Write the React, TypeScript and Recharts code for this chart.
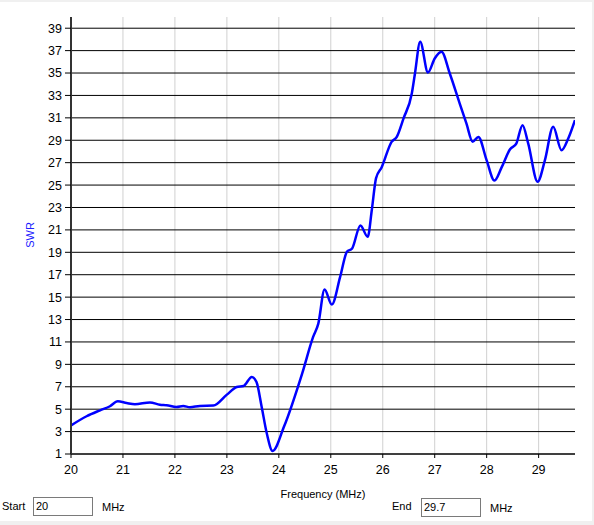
import React from 'react';
import { LineChart, Line, XAxis, YAxis, CartesianGrid } from 'recharts';

const freqMHz = [
  20, 20.3, 20.56, 20.75, 20.9, 21.07, 21.23, 21.52, 21.71, 21.84, 22.03, 22.16, 22.29, 22.48, 22.74,
  23.0, 23.19, 23.32, 23.48, 23.57, 23.67, 23.77, 23.88, 24.1, 24.45, 24.66, 24.76, 24.88, 25.02,
  25.18, 25.31, 25.41, 25.57, 25.71, 25.79, 25.87, 25.98, 26.17, 26.27, 26.4, 26.56, 26.62, 26.72,
  26.87, 27.0, 27.13, 27.29, 27.48, 27.61, 27.73, 27.84, 28.0, 28.15, 28.29, 28.45, 28.57, 28.69,
  28.8, 28.98, 29.12, 29.28, 29.44, 29.57, 29.7,
];
const swrValues = [
  3.55, 4.37, 4.9, 5.26, 5.7, 5.55, 5.44, 5.6, 5.4, 5.35, 5.2, 5.29, 5.17, 5.29, 5.32,
  6.3, 6.98, 7.07, 7.88, 7.43, 5.2, 2.8, 1.27, 3.45, 8.2, 11.45, 12.64, 15.68, 14.34,
  16.8, 19.04, 19.34, 21.4, 20.38, 22.8, 25.6, 26.6, 28.86, 29.3, 30.95, 33.2, 34.96, 37.8,
  35.05, 36.3, 36.9, 34.96, 32.3, 30.5, 28.86, 29.3, 27.2, 25.4, 26.6, 28.2, 28.7, 30.35,
  28.7, 25.3, 27.2, 30.2, 28.1, 29.16, 30.8,
];
const xTicks = [20, 21, 22, 23, 24, 25, 26, 27, 28, 29];
const xGridValues = [21, 22, 23, 24, 25, 26, 27, 28, 29];
const yTicks = [1, 3, 5, 7, 9, 11, 13, 15, 17, 19, 21, 23, 25, 27, 29, 31, 33, 35, 37, 39];
const xDomain = [20, 29.7];
const yDomain = [1, 40];

const data = freqMHz.map((f, i) => ({ f, swr: swrValues[i] }));

const FONT = '"Liberation Sans", Arial, sans-serif';
const tickStyle = { fontFamily: FONT, fontSize: 12.5, fill: '#000' };

const labelStyle: React.CSSProperties = {
  position: 'absolute',
  fontFamily: FONT,
  fontSize: 11,
  color: '#000',
  lineHeight: '13px',
  whiteSpace: 'nowrap',
};

const boxStyle: React.CSSProperties = {
  position: 'absolute',
  boxSizing: 'border-box',
  border: '1px solid #7a7a7a',
  background: '#fff',
  fontFamily: FONT,
  fontSize: 11,
  lineHeight: '17px',
  paddingLeft: 2,
  height: 19,
};

export default function App() {
  return (
    <div style={{ position: 'absolute', left: 0, top: 0, width: 594, height: 525, background: '#f0f0f0', overflow: 'hidden' }}>
      <div style={{ position: 'absolute', left: 0, top: 2, width: 592, height: 519, background: '#fff' }} />
      <div style={{ position: 'absolute', left: 0, top: 0 }}>
        <LineChart
          width={594}
          height={525}
          data={data}
          margin={{ top: 17, right: 19, left: 0, bottom: 41 }}
        >
          <CartesianGrid horizontal={false} stroke="#d0d0d0" strokeWidth={1} verticalValues={xGridValues} />
          <CartesianGrid vertical={false} stroke="#000" strokeWidth={1} horizontalValues={yTicks} />
          <XAxis
            dataKey="f"
            type="number"
            domain={xDomain}
            ticks={xTicks}
            allowDataOverflow
            height={30}
            tickSize={4}
            tickMargin={7}
            tick={tickStyle}
            axisLine={{ stroke: '#000', strokeWidth: 1 }}
            tickLine={{ stroke: '#000' }}
            interval={0}
          />
          <YAxis
            type="number"
            domain={yDomain}
            ticks={yTicks}
            allowDataOverflow
            width={71}
            tickSize={6}
            tickMargin={3}
            tick={tickStyle}
            axisLine={{ stroke: '#333', strokeWidth: 2 }}
            tickLine={{ stroke: '#000' }}
            interval={0}
          />
          <Line
            type="monotone"
            dataKey="swr"
            stroke="#0000ff"
            strokeWidth={2.5}
            dot={false}
            activeDot={false}
            isAnimationActive={false}
          />
        </LineChart>
      </div>
      <div
        style={{
          ...labelStyle,
          color: '#2020ff',
          left: 30,
          top: 235,
          transform: 'translate(-50%, -50%) rotate(-90deg)',
        }}
      >
        SWR
      </div>
      <div style={{ ...labelStyle, left: 323, top: 488, transform: 'translateX(-50%)' }}>Frequency (MHz)</div>
      <div style={{ ...labelStyle, left: 2, top: 500 }}>Start</div>
      <div style={{ ...boxStyle, left: 33, top: 497, width: 60 }}>20</div>
      <div style={{ ...labelStyle, left: 102, top: 501 }}>MHz</div>
      <div style={{ ...labelStyle, left: 392, top: 500 }}>End</div>
      <div style={{ ...boxStyle, left: 421, top: 498, width: 60 }}>29.7</div>
      <div style={{ ...labelStyle, left: 490, top: 502 }}>MHz</div>
    </div>
  );
}
